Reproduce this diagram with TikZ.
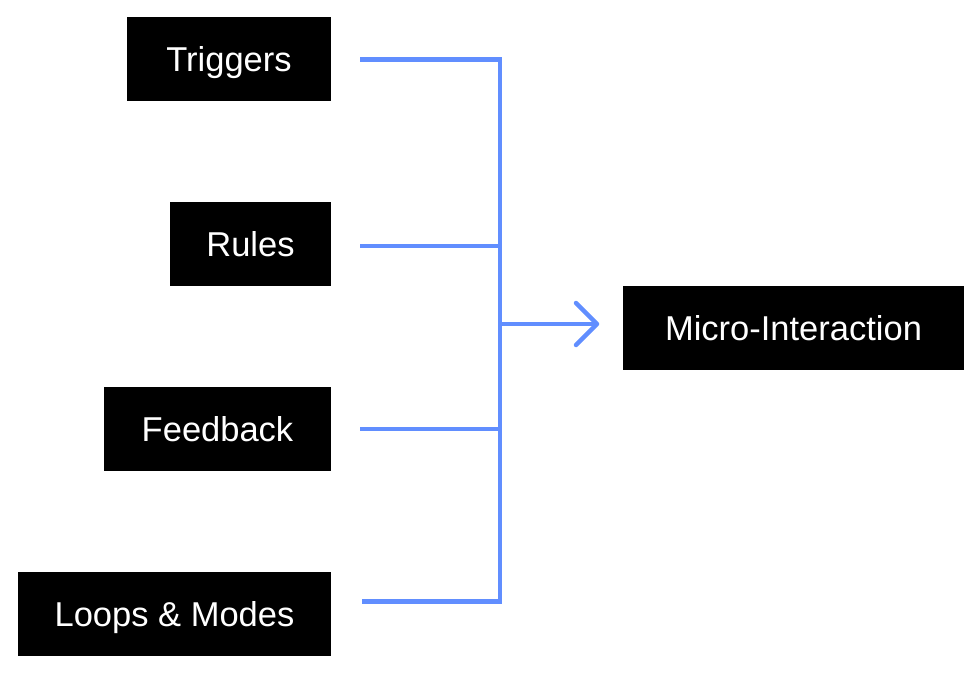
\documentclass[tikz,border=0pt]{standalone}
\usepackage{fontspec}
\setmainfont{Liberation Sans}
\usetikzlibrary{arrows.meta}
\definecolor{linkblue}{RGB}{97,142,255}
\begin{document}
\begin{tikzpicture}[x=1pt,y=-1pt,
  blackbox/.style={fill=black,text=white,inner sep=0pt,font=\fontsize{34.5}{40}\selectfont,text height=24.7pt,text depth=0pt},
  link/.style={draw=linkblue,line width=4.5pt}]
\useasboundingbox (0,0) rectangle (976,674);
\node[blackbox,minimum width=204,minimum height=84] (trig) at (229,59) {Triggers};
\node[blackbox,minimum width=161,minimum height=84] (rules) at (250.5,244) {Rules};
\node[blackbox,minimum width=227,minimum height=84] (feed) at (217.5,429) {Feedback};
\node[blackbox,minimum width=313,minimum height=84] (loops) at (174.5,614) {Loops \& Modes};
\node[blackbox,minimum width=341,minimum height=84] (micro) at (793.5,328) {Micro-Interaction};
\coordinate (j1) at (500,59.5);
\coordinate (j2) at (500,246);
\coordinate (j3) at (500,429);
\coordinate (j4) at (500,601.5);
\coordinate (jm) at (500,324);
\coordinate (tip) at (597,324);
\draw[link] ([xshift=29]trig.east |- j1) -- (j1) -- (j4) -- ([xshift=31]loops.east |- j4);
\draw[link] ([xshift=29]rules.east |- j2) -- (j2);
\draw[link] ([xshift=29]feed.east |- j3) -- (j3);
\draw[link] (jm) -- (tip);
\draw[link,line cap=round,line join=round] ([shift={(-21,-21)}]tip) -- (tip) -- ([shift={(-21,21)}]tip);
\end{tikzpicture}
\end{document}
